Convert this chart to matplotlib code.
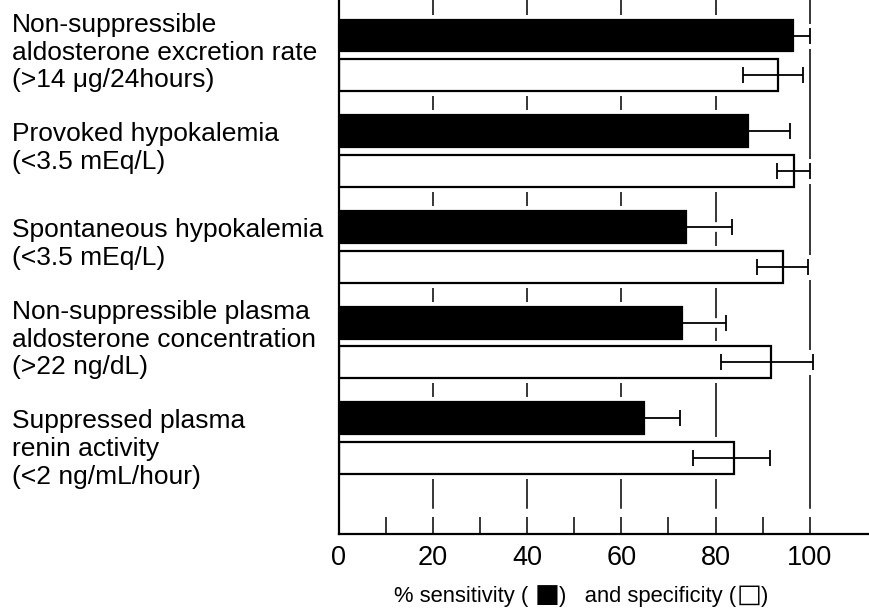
import matplotlib
matplotlib.use("Agg")
import matplotlib.pyplot as plt
import matplotlib.transforms as mtransforms
import numpy as np

plt.rcParams['font.family'] = ['Liberation Sans', 'DejaVu Sans']

# data
labels = [
    "Non-suppressible\naldosterone excretion rate\n(>14 \u03bcg/24hours)",
    "Provoked hypokalemia\n(<3.5 mEq/L)",
    "Spontaneous hypokalemia\n(<3.5 mEq/L)",
    "Non-suppressible plasma\naldosterone concentration\n(>22 ng/dL)",
    "Suppressed plasma\nrenin activity\n(<2 ng/mL/hour)",
]
sensitivity = [96.5, 86.9, 73.8, 72.8, 64.8]
sensitivity_hi = [100.1, 95.8, 83.4, 82.2, 72.4]
specificity = [93.2, 96.7, 94.3, 91.8, 83.9]
specificity_lo = [85.8, 93.1, 88.7, 81.2, 75.2]
specificity_hi = [98.6, 100.1, 99.6, 100.7, 91.5]

# small vertical nudges of the category labels (data units)
label_nudge = [-0.03, -0.03, -0.03, -0.03, 0.11]

sens = np.array(sensitivity)
sens_err = np.array(sensitivity_hi) - sens
spec = np.array(specificity)
spec_err = np.vstack([spec - np.array(specificity_lo), np.array(specificity_hi) - spec])

y = np.arange(len(labels))
off = 0.208
h = 0.334

fig = plt.figure(figsize=(8.69, 6.09), dpi=100)
ax = fig.add_axes([339 / 869, 75 / 609, 530 / 869, 534 / 609])

# gridlines (stop short of the bottom axis)
for gx in [20, 40, 60, 80, 100]:
    ax.axvline(gx, ymin=0.049, ymax=1, color='black', lw=1.1, zorder=0.5)

# white halo around the bars and error bars
ax.barh(y - off, sens, height=h, color='white', edgecolor='white', linewidth=7.2, zorder=1)
ax.barh(y + off, spec, height=h, color='white', edgecolor='white', linewidth=7.2, zorder=1)
ax.errorbar(sens, y - off, xerr=sens_err, fmt='none', ecolor='white', elinewidth=7,
            capsize=9, capthick=7, zorder=1)
ax.errorbar(spec, y + off, xerr=spec_err, fmt='none', ecolor='white', elinewidth=7,
            capsize=9, capthick=7, zorder=1)

# bars
ax.barh(y - off, sens, height=h, color='black', edgecolor='black', linewidth=1.6, zorder=2)
ax.barh(y + off, spec, height=h, color='white', edgecolor='black', linewidth=1.6, zorder=2)
ax.errorbar(sens, y - off, xerr=sens_err, fmt='none', ecolor='black', elinewidth=1.3,
            capsize=6, capthick=1.3, zorder=3)
ax.errorbar(spec, y + off, xerr=spec_err, fmt='none', ecolor='black', elinewidth=1.3,
            capsize=6, capthick=1.3, zorder=3)

ax.set_xlim(0, 112.6)
ax.set_ylim(5.0, -0.579)

ax.spines['top'].set_visible(False)
ax.spines['right'].set_visible(False)
ax.spines['left'].set_linewidth(1.6)
ax.spines['bottom'].set_linewidth(1.6)
ax.spines['left'].set_zorder(4)
ax.spines['bottom'].set_zorder(4)

ax.set_xticks([0, 20, 40, 60, 80, 100])
ax.set_xticks([10, 30, 50, 70, 90], minor=True)
ax.tick_params(axis='x', which='both', direction='in', length=12.2, width=1.1,
               labelsize=19.5, pad=8)
ax.set_yticks([])

# category labels, left aligned at the figure edge
trans = mtransforms.blended_transform_factory(fig.transFigure, ax.transData)
for yi, lab, dy in zip(y, labels, label_nudge):
    ax.text(12 / 869, yi + dy, lab, transform=trans, ha='left', va='center',
            fontsize=19, linespacing=1.2, clip_on=False)

# axis title under the scale, squares drawn a bit larger than the words
pieces = ["% sensitivity ( ", "\u25a0", ")   and specificity (", "\u25a1", ")"]
sizes = [15.8, 19, 15.8, 19, 15.8]
renderer = fig.canvas.get_renderer()
texts = []
for p, s in zip(pieces, sizes):
    fam = ['DejaVu Sans'] if p in ("\u25a0", "\u25a1") else None
    t = fig.text(0, 0, p, fontsize=s, family=fam, ha='left', va='baseline')
    texts.append(t)
widths = [t.get_window_extent(renderer).width for t in texts]
cx = ax.transData.transform((50, 0))[0] + 7
x0 = cx - sum(widths) / 2
base = 602
for t, w in zip(texts, widths):
    t.set_position((x0 / 869, (609 - base) / 609))
    x0 += w

fig.savefig("out.png", dpi=100)
